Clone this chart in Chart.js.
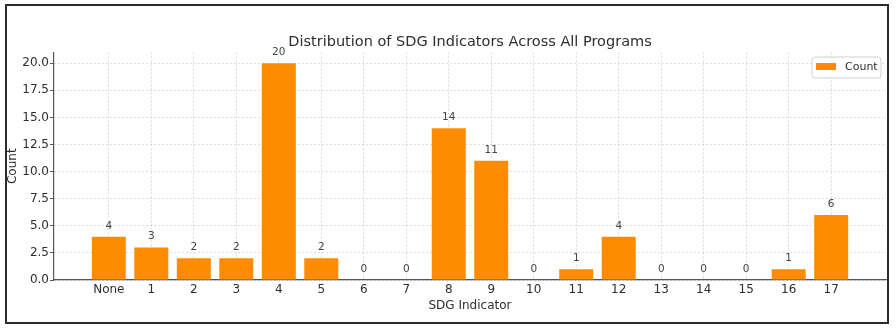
<!DOCTYPE html>
<html>
<head>
<meta charset="utf-8">
<script src="https://cdn.jsdelivr.net/npm/chart.js@4.4.1/dist/chart.umd.min.js"></script>
<style>
  html, body { margin: 0; padding: 0; background: #fff; }
  #wrap { position: relative; width: 896px; height: 332px; }
  #frame {
    position: absolute; left: 5px; top: 4px; width: 884px; height: 320px;
    box-sizing: border-box; border: 2px solid #2b2b2b; pointer-events: none;
  }
</style>
</head>
<body>
<div id="wrap">
  <canvas id="sdgChart" width="896" height="332"></canvas>
  <div id="frame"></div>
</div>
<script>
const sdgLabels = ["None", "1", "2", "3", "4", "5", "6", "7", "8", "9", "10", "11", "12", "13", "14", "15", "16", "17"]
const sdgCounts = [4, 3, 2, 2, 20, 2, 0, 0, 14, 11, 0, 1, 4, 0, 0, 0, 1, 6]
const yTicks = [0, 2.5, 5, 7.5, 10, 12.5, 15, 17.5, 20]

const orange = "#ff8c00"
const textColor = "#2e2e2e"
const gridColor = "rgba(176, 176, 176, 0.45)"
const font = "'DejaVu Sans', sans-serif"

// bar value labels and the boxed legend in the upper right
const annotate = {
  id: "annotate",
  afterDraw(chart) {
    const ctx = chart.ctx
    const meta = chart.getDatasetMeta(0)
    ctx.save()
    ctx.font = "10.5px " + font
    ctx.fillStyle = "#444"
    ctx.textAlign = "center"
    ctx.textBaseline = "alphabetic"
    meta.data.forEach((bar, i) => {
      ctx.fillText(String(sdgCounts[i]), bar.x, bar.y - 8)
    })

    const ds = chart.data.datasets[0]
    const x = 812, y = 57, w = 69, h = 21
    ctx.beginPath()
    ctx.roundRect(x, y, w, h, 3)
    ctx.fillStyle = "rgba(255,255,255,0.85)"
    ctx.fill()
    ctx.strokeStyle = "#d0d0d0"
    ctx.lineWidth = 1
    ctx.stroke()
    ctx.fillStyle = ds.backgroundColor
    ctx.fillRect(x + 4, y + 6, 20, 7)
    ctx.fillStyle = textColor
    ctx.font = "11px " + font
    ctx.textAlign = "left"
    ctx.textBaseline = "middle"
    ctx.fillText(ds.label, x + 33, y + 10)
    ctx.restore()
  }
}

new Chart(document.getElementById("sdgChart"), {
  type: "bar",
  data: {
    datasets: [{
      label: "Count",
      data: sdgCounts.map((v, i) => ({ x: i, y: v })),
      backgroundColor: orange,
      borderWidth: 0,
      barPercentage: 0.8,
      categoryPercentage: 1.0
    }]
  },
  options: {
    responsive: false,
    animation: false,
    layout: { padding: { left: 0, right: 10, top: 0, bottom: 0 } },
    plugins: {
      legend: { display: false },
      tooltip: { enabled: false },
      title: {
        display: true,
        fullSize: false,
        text: "Distribution of SDG Indicators Across All Programs",
        color: textColor,
        font: { family: font, size: 14.5, weight: "normal" },
        padding: { top: 34, bottom: 1 }
      }
    },
    scales: {
      x: {
        type: "linear",
        offset: false,
        min: -1.29,
        max: 18.29,
        z: 1,
        afterBuildTicks: (scale) => {
          scale.ticks = sdgLabels.map((_, i) => ({ value: i }))
        },
        afterFit: (scale) => { scale.height = 52 },
        ticks: {
          color: textColor,
          font: { family: font, size: 12 },
          padding: 3,
          maxRotation: 0,
          autoSkip: false,
          callback: (v) => sdgLabels[v]
        },
        grid: { color: gridColor, drawTicks: false, offset: false },
        border: { display: true, color: "#555", width: 1.2, dash: [2, 2] },
        title: {
          display: true,
          text: "SDG Indicator",
          color: textColor,
          font: { family: font, size: 12 },
          padding: { top: 0, bottom: 19 }
        }
      },
      y: {
        min: 0,
        max: 21,
        z: 1,
        afterBuildTicks: (scale) => {
          scale.ticks = yTicks.map((v) => ({ value: v }))
        },
        afterFit: (scale) => { scale.width = 54 },
        ticks: {
          color: textColor,
          font: { family: font, size: 12 },
          padding: 1,
          callback: (v) => v.toFixed(1)
        },
        grid: { color: gridColor, tickColor: "#555", tickLength: 4 },
        border: { display: true, color: "#555", width: 1.2, dash: [2, 2] },
        title: {
          display: true,
          text: "Count",
          color: textColor,
          font: { family: font, size: 12 },
          padding: { top: 6, bottom: 0 }
        }
      }
    }
  },
  plugins: [annotate]
})
</script>
</body>
</html>
